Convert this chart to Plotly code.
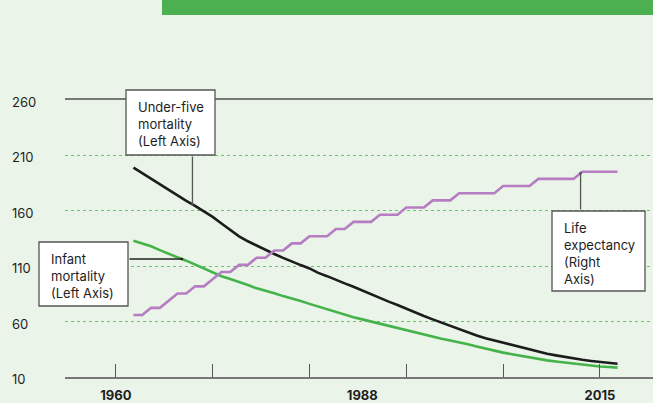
import numpy as np
import plotly.graph_objects as go

# ---- data ----
years = list(range(1962, 2018))

under_five = [
    199, 194, 189, 184, 178.5, 173.5, 169, 164.5, 159.5, 154.5,
    148.5, 142.5, 137, 132.5, 128.5, 125, 121, 117.5, 114, 111,
    108, 104, 101, 97.5, 94.5, 91.5, 88, 85, 81.5, 78,
    75, 71.5, 68, 65, 62, 59, 56, 53, 50, 47.5,
    45, 43, 40.5, 38.5, 36.5, 34.5, 32.5, 31, 29.5, 28,
    27, 25.5, 24.5, 23.5, 22.8, 22,
]

infant = [
    133, 130.5, 128, 124.5, 121, 118, 115, 111.5, 108, 104.5,
    101, 98.5, 96, 93, 90, 88, 85.5, 83, 81, 78.5,
    76, 73.5, 71, 68.5, 66.5, 64, 62, 60, 58, 56.5,
    54.5, 52.5, 50.5, 48.5, 46.5, 44.5, 43, 41.5, 39.5, 37.5,
    35.5, 33.5, 32, 30.5, 29, 27.5, 26.5, 25, 24, 23,
    22, 21, 20.2, 19.5, 19, 18.5,
]

life_expectancy = [
    48, 48, 49, 49, 50, 51, 51, 52, 52, 53,
    54, 54, 55, 55, 56, 56, 57, 57, 58, 58,
    59, 59, 59, 60, 60, 61, 61, 61, 62, 62,
    62, 63, 63, 63, 64, 64, 64, 65, 65, 65,
    65, 65, 66, 66, 66, 66, 67, 67, 67, 67,
    67, 68, 68, 68, 68, 68,
]

left_ticks = [10, 60, 110, 160, 210, 260]
year_marks = [1960, 1971, 1982, 1993, 2004, 2015]
year_labels = [1960, 1988, 2015]

# ---- layout geometry (pixels) ----
W, H = 653, 403
L, R, T, B = 65, 0, 100, 26
PW, PH = W - L - R, H - T - B
X_RANGE = [1954.22, 2021.03]
Y_RANGE = [10, 260]
Y2_RANGE = [39.35, 78.01]

BG = "#eaf4e8"
FONT = "Inter, Roboto, sans-serif"
TEXT = "#1e1e1e"


def px_x(v):
    return L + (v - X_RANGE[0]) / (X_RANGE[1] - X_RANGE[0]) * PW


def px_y(v, rng=Y_RANGE):
    return T + PH - (v - rng[0]) / (rng[1] - rng[0]) * PH


def paper_x(p):
    return (p - L) / PW


def paper_y(p):
    return (T + PH - p) / PH


fig = go.Figure()

fig.add_trace(go.Scatter(
    x=years, y=life_expectancy, mode="lines", yaxis="y2",
    line=dict(color="#b67dc2", width=2.6), hoverinfo="skip",
))
fig.add_trace(go.Scatter(
    x=years, y=infant, mode="lines",
    line=dict(color="#44b34a", width=2.6), hoverinfo="skip",
))
fig.add_trace(go.Scatter(
    x=years, y=under_five, mode="lines",
    line=dict(color="#1c1c1c", width=2.6), hoverinfo="skip",
))

shapes = []
annotations = []

# green banner at top (title cut off)
shapes.append(dict(
    type="rect", xref="paper", yref="paper", layer="above",
    x0=paper_x(162), x1=paper_x(W + 2), y0=paper_y(15), y1=paper_y(-2),
    fillcolor="#4caf50", line=dict(width=0),
))

# left axis labels, left-aligned
for v in left_ticks:
    annotations.append(dict(
        xref="paper", yref="y", x=paper_x(10), y=v, xanchor="left",
        yanchor="middle", yshift=-2, showarrow=False, text=str(v),
        font=dict(family=FONT, size=13, color=TEXT),
    ))


def callout(box, lines):
    x0, y0, x1, y1 = box
    shapes.append(dict(
        type="rect", xref="paper", yref="paper", layer="above",
        x0=paper_x(x0), x1=paper_x(x1), y0=paper_y(y1), y1=paper_y(y0),
        fillcolor="white", line=dict(color="#555555", width=1.3),
    ))
    annotations.append(dict(
        xref="paper", yref="paper", x=paper_x(x0 + 10), y=paper_y(y0 + 7),
        xanchor="left", yanchor="top", align="left", showarrow=False,
        text="<br>".join(lines),
        font=dict(family=FONT, size=13, color=TEXT),
    ))


def leader(year, series, tail_px, tail_py, yref="y", rng=Y_RANGE, color="#555555"):
    val = float(np.interp(year, years, series))
    tip_px, tip_py = px_x(year), px_y(val, rng)
    annotations.append(dict(
        xref="x", yref=yref, x=year, y=val, text="", showarrow=True,
        ax=(tail_px - tip_px) if tail_px is not None else 0,
        ay=(tail_py - tip_py) if tail_py is not None else 0,
        arrowhead=6, arrowsize=0.5, arrowwidth=1.3, arrowcolor=color,
        standoff=0, startstandoff=0,
    ))


leader(1968.7, under_five, None, 155)
leader(1967.5, infant, 128, None, color="#222222")
leader(2012.8, life_expectancy, None, 211, yref="y2", rng=Y2_RANGE)

callout((126, 90, 215, 155), ["Under-five", "mortality", "(Left Axis)"])
callout((39, 242, 128, 306), ["Infant", "mortality", "(Left Axis)"])
callout((552, 211, 645, 291), ["Life", "expectancy", "(Right", "Axis)"])

fig.update_layout(
    width=W, height=H,
    margin=dict(l=L, r=R, t=T, b=B, pad=0, autoexpand=False),
    paper_bgcolor=BG, plot_bgcolor=BG,
    showlegend=False,
    font=dict(family=FONT, color=TEXT),
    xaxis=dict(
        range=X_RANGE, showgrid=False, zeroline=False, automargin=False,
        showline=True, linecolor="#777777", linewidth=1.5, mirror=True,
        tickvals=year_labels, ticktext=[f"<b>{y}</b>" for y in year_labels],
        ticks="", ticklabelstandoff=6,
        tickfont=dict(family=FONT, size=13, color=TEXT),
        minor=dict(tickvals=year_marks, ticks="inside", ticklen=13,
                   tickwidth=1.3, tickcolor="#555555", showgrid=False),
    ),
    yaxis=dict(
        range=Y_RANGE, tickvals=left_ticks[1:-1], showticklabels=False,
        ticks="", zeroline=False, showline=False, automargin=False,
        showgrid=True, gridcolor="#6cc46c", gridwidth=1, griddash="3px,3px",
    ),
    yaxis2=dict(range=Y2_RANGE, overlaying="y", side="right", visible=False),
    shapes=shapes,
    annotations=annotations,
)

# page has a default body margin; drop it so the figure fills the window
fig.write_html(
    "out.html",
    config={"displayModeBar": False},
    post_script="document.body.style.margin='0';document.body.style.overflow='hidden';",
)
